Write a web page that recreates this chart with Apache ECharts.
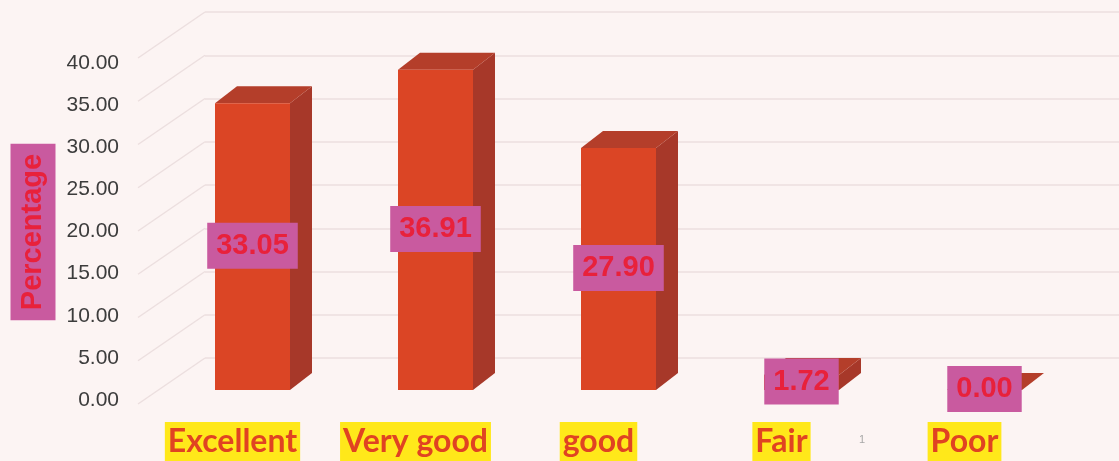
<!DOCTYPE html>
<html>
<head>
<meta charset="utf-8">
<script src="https://cdn.jsdelivr.net/npm/echarts@6/dist/echarts.min.js"></script>
<style>
html,body{margin:0;padding:0;background:#fcf4f3;}
#chart{width:1119px;height:461px;}
</style>
</head>
<body>
<div id="chart"></div>
<script>
// ---- data ----
const categories = ['Excellent', 'Very good', 'good', 'Fair', 'Poor'];
const percentages = [33.05, 36.91, 27.90, 1.72, 0.00];
const yTickValues = [0, 5, 10, 15, 20, 25, 30, 35, 40];
const axisTitle = 'Percentage';
const yMin = 0, yMax = 40, yStep = 5;

// ---- styles ----
const FRONT = '#db4525', SIDE = '#a73829', TOP = '#b43e2a';
const LABEL_BG = '#c95a9f', LABEL_FG = '#e8213b';
const GRID_LINE = '#ecdfdf';

const chart = echarts.init(document.getElementById('chart'), null, {renderer: 'canvas'});

const option = {
  backgroundColor: '#fcf4f3',
  animation: false,
  grid: [
    {left: 205, right: 0, top: 12, bottom: 103},   // back wall
    {left: 141, width: 915, top: 63, bottom: 54},  // front plane (labels)
    {left: 161, width: 915, top: 43, bottom: 71}   // bars
  ],
  xAxis: [
    {gridIndex: 0, type: 'value', min: 0, max: 1, show: false},
    {gridIndex: 1, type: 'category', data: categories,
      axisLine: {show: false}, axisTick: {show: false},
      axisLabel: {
        interval: 0, hideOverlap: false,
        margin: 22, color: '#e04322', fontFamily: 'Lato', fontWeight: 'bold', fontSize: 32,
        backgroundColor: '#ffe81a', padding: [1, 3, 0, 3], lineHeight: 38
      }
    },
    {gridIndex: 2, type: 'category', data: categories, show: false}
  ],
  yAxis: [
    {gridIndex: 0, type: 'value', min: yMin, max: yMax, interval: yStep,
      axisLabel: {show: false}, axisLine: {show: false}, axisTick: {show: false},
      splitLine: {show: true, lineStyle: {color: GRID_LINE, width: 1.5}}},
    {gridIndex: 1, type: 'value', min: yMin, max: yMax, interval: yStep,
      axisLine: {show: false}, axisTick: {show: false}, splitLine: {show: false},
      axisLabel: {margin: 22, color: '#3c3c3c', fontFamily: 'Liberation Sans', fontSize: 21,
        formatter: v => v.toFixed(2)}},
    {gridIndex: 2, type: 'value', min: yMin, max: yMax, interval: yStep, show: false}
  ],
  graphic: [
    {type: 'text', x: 33, y: 232, rotation: Math.PI / 2, z: 10,
      style: {text: axisTitle, fill: LABEL_FG, font: 'bold 29px "Liberation Sans", Arial',
        align: 'center', verticalAlign: 'middle', backgroundColor: LABEL_BG, padding: [8, 10, 8, 10]}},
    {type: 'text', x: 862, y: 440, style: {text: '1', fill: '#a8a8a8', font: '11px "Liberation Sans"', align: 'center', verticalAlign: 'middle'}}
  ],
  series: [
    { // side wall lines
      type: 'custom', xAxisIndex: 0, yAxisIndex: 0, silent: true,
      data: yTickValues.map(v => [0, v]),
      renderItem: (params, api) => {
        const back = api.coord([0, api.value(1)]);
        return {type: 'line', shape: {x1: back[0] - 67, y1: back[1] + 46, x2: back[0], y2: back[1]},
          style: {stroke: GRID_LINE, lineWidth: 1.5}};
      }
    },
    { // 3D bars
      type: 'custom', xAxisIndex: 2, yAxisIndex: 2,
      data: percentages.map((v, i) => [i, v]),
      renderItem: (params, api) => {
        const i = api.value(0), v = api.value(1);
        const base = api.coord([i, 0]);
        const top = api.coord([i, v]);
        const w = 75, dx = 22, dy = -17;
        const l = base[0] - w / 2, r = base[0] + w / 2;
        const yb = base[1], yt = top[1];
        return {type: 'group', children: [
          {type: 'polygon', shape: {points: [[r, yb], [r + dx, yb + dy], [r + dx, yt + dy], [r, yt]]}, style: {fill: SIDE}},
          {type: 'polygon', shape: {points: [[l, yt], [r, yt], [r + dx, yt + dy], [l + dx, yt + dy]]}, style: {fill: TOP}},
          {type: 'rect', shape: {x: l, y: yt, width: w, height: yb - yt}, style: {fill: FRONT}},
          {type: 'text', z2: 10, style: {
            x: base[0], y: (yb + yt) / 2 - 1, text: v.toFixed(2),
            fill: LABEL_FG, font: 'bold 29px "Liberation Sans", Arial',
            align: 'center', verticalAlign: 'middle',
            backgroundColor: LABEL_BG, padding: [9, 9, 8, 9]}}
        ]};
      }
    }
  ]
};
chart.setOption(option);
</script>
</body>
</html>
